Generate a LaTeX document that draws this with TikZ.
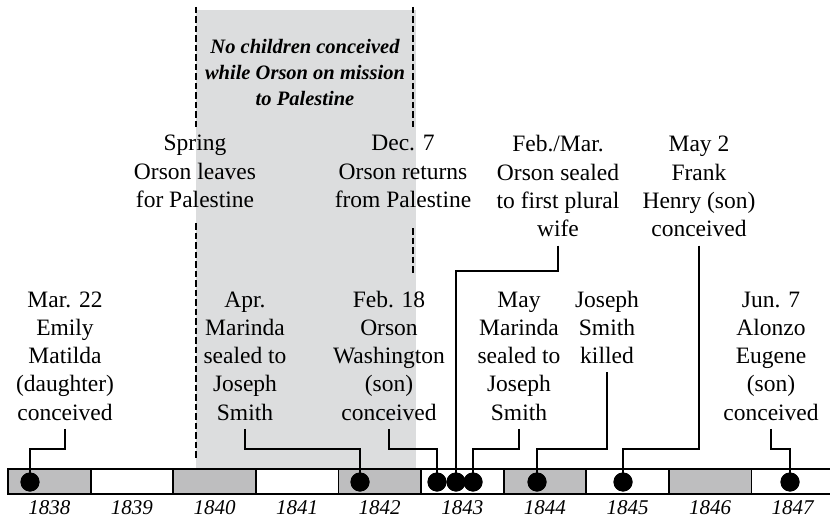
\documentclass[tikz,border=0pt]{standalone}
\usepackage{fontspec}
\setmainfont{Liberation Serif}
\usetikzlibrary{calc}
\definecolor{shadegray}{RGB}{220,221,222}
\definecolor{cellgray}{RGB}{190,190,191}
\newcommand\lblstack[1]{\begin{tabular}[t]{@{}c@{}}#1\end{tabular}}
\tikzset{
  lbl/.style={inner sep=0pt, anchor=base, font=\fontsize{23.5}{28.3}\selectfont},
  ital/.style={inner sep=0pt, anchor=base, font=\fontsize{20.5}{26}\selectfont\bfseries\itshape},
  yearlbl/.style={inner sep=0pt, anchor=base, font=\fontsize{21}{24}\selectfont\itshape},
  conn/.style={draw=black, line width=2.8pt},
  dotnode/.style={circle, fill=black, inner sep=0pt, minimum size=19pt},
  dashline/.style={draw=black, line width=2.6pt, dash pattern=on 6.5pt off 3pt},
  cellw/.style={draw=black, line width=1.8pt, fill=white},
  cellg/.style={draw=black, line width=1.8pt, fill=cellgray}
}
\begin{document}
\begin{tikzpicture}[x=1pt,y=-1pt]
\useasboundingbox (0,0) rectangle (830,524);
% shaded mission period
\fill[shadegray] (196,10) rectangle (416,469);
\draw[dashline] (196,7) -- (196,128);
\draw[dashline] (196,223) -- (196,458);
\draw[dashline] (413,7) -- (413,128);
\draw[dashline] (413,228) -- (413,275);
% timeline bar
\foreach \i/\yr in {0/1838,1/1839,2/1840,3/1841,4/1842,5/1843,6/1844,7/1845,8/1846,9/1847}{
  \pgfmathsetmacro\xa{8+82.6*\i}
  \pgfmathsetmacro\xb{\i==9 ? 840 : 8+82.6*(\i+1)}
  \pgfmathsetmacro\xc{8+82.6*(\i+0.5)}
  \pgfmathtruncatemacro\odd{mod(\i,2)}
  \ifnum\odd=0
    \draw[cellg] (\xa,469) rectangle (\xb,494);
  \else
    \draw[cellw] (\xa,469) rectangle (\xb,494);
  \fi
  \node[yearlbl] (y\yr) at (\xc,514) {\yr};
}
% text labels
\node[ital] (nochild) at (305,54) {\lblstack{No children conceived\\while Orson on mission\\to Palestine}};
\node[lbl] (spring) at (195,151) {\lblstack{Spring\\Orson leaves\\for Palestine}};
\node[lbl] (dec) at (403,151) {\lblstack{Dec. 7\\Orson returns\\from Palestine}};
\node[lbl] (febmar) at (558,152) {\lblstack{Feb./Mar.\\Orson sealed\\to first plural\\wife}};
\node[lbl] (may2) at (699,152) {\lblstack{May 2\\Frank\\Henry (son)\\conceived}};
\node[lbl] (mar) at (65,307) {\lblstack{Mar. 22\\Emily\\Matilda\\(daughter)\\conceived}};
\node[lbl] (apr) at (245,307) {\lblstack{Apr.\\Marinda\\sealed to\\Joseph\\Smith}};
\node[lbl] (feb) at (389,307) {\lblstack{Feb. 18\\Orson\\Washington\\(son)\\conceived}};
\node[lbl] (may) at (519,307) {\lblstack{May\\Marinda\\sealed to\\Joseph\\Smith}};
\node[lbl] (killed) at (607,307) {\lblstack{Joseph\\Smith\\killed}};
\node[lbl] (jun) at (771,307) {\lblstack{Jun. 7\\Alonzo\\Eugene\\(son)\\conceived}};
% dots
\node[dotnode] (d1) at (30,482) {};
\node[dotnode] (d2) at (360,482) {};
\node[dotnode] (d3) at (437,482) {};
\node[dotnode] (d4) at (456,482) {};
\node[dotnode] (d5) at (473,482) {};
\node[dotnode] (d6) at (537,482) {};
\node[dotnode] (d7) at (623,482) {};
\node[dotnode] (d8) at (790,482) {};
% junctions
\coordinate (j1) at (30,449);
\coordinate (j2) at (360,449);
\coordinate (j3) at (437,449);
\coordinate (j4) at (456,271);
\coordinate (j5) at (473,449);
\coordinate (j6) at (537,449);
\coordinate (j7) at (623,449);
\coordinate (j8) at (790,449);
% connectors
\draw[conn] (mar.south) |- (j1) -- (d1.center);
\draw[conn] (apr.south) |- (j2) -- (d2.center);
\draw[conn] (feb.south) |- (j3) -- (d3.center);
\draw[conn] (febmar.south) |- (j4) -- (d4.center);
\draw[conn] (may.south) |- (j5) -- (d5.center);
\draw[conn] (killed.south) |- (j6) -- (d6.center);
\draw[conn] (may2.south) |- (j7) -- (d7.center);
\draw[conn] (jun.south) |- (j8) -- (d8.center);
% redraw dots on top
\foreach \d in {d1,d2,d3,d4,d5,d6,d7,d8}{\fill[black] (\d.center) circle (9.5pt);}
\end{tikzpicture}
\end{document}
